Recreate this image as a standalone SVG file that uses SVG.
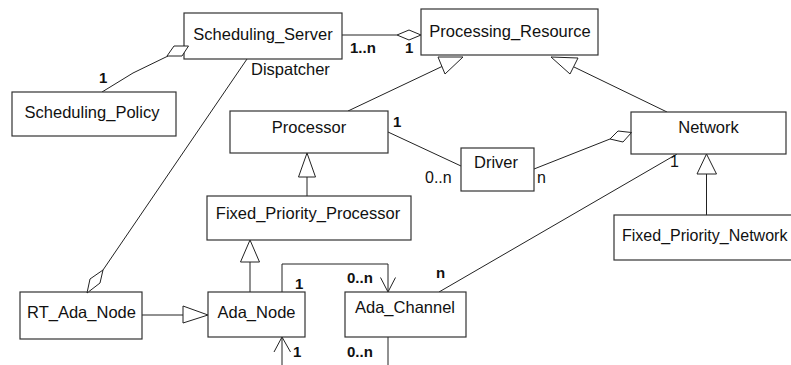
<svg xmlns="http://www.w3.org/2000/svg" width="791" height="365" viewBox="0 0 791 365">
  <style>
    .box { fill: #ffffff; stroke: #333333; stroke-width: 1.2; }
    .name { font-family: "Liberation Sans", Arial, sans-serif; font-size: 16.5px; fill: #111111; text-anchor: middle; }
    .role { font-family: "Liberation Sans", Arial, sans-serif; font-size: 16.5px; fill: #111111; }
    .mult { font-family: "Liberation Sans", Arial, sans-serif; font-size: 16px; fill: #111111; }
    .multb { font-family: "Liberation Sans", Arial, sans-serif; font-size: 15px; font-weight: bold; fill: #111111; }
    .line { fill: none; stroke: #222222; stroke-width: 1; }
    .head { fill: #ffffff; stroke: #222222; stroke-width: 1; }
  </style>
  <rect width="791" height="365" fill="#ffffff"/>

  <!-- associations, aggregations and generalizations -->
  <g id="connectors">
    <!-- Scheduling_Policy to Scheduling_Server -->
    <polyline class="line" points="102,92 133,73 168,56"/>
    <!-- Scheduling_Server to Processing_Resource -->
    <line class="line" x1="342" y1="35" x2="397" y2="35"/>
    <!-- Scheduling_Server to RT_Ada_Node -->
    <line class="line" x1="247" y1="59" x2="103" y2="270"/>
    <!-- Processor / Network to Processing_Resource -->
    <line class="line" x1="348" y1="111" x2="443" y2="66"/>
    <line class="line" x1="667" y1="112" x2="574" y2="67"/>
    <!-- Processor to Driver -->
    <line class="line" x1="388" y1="132" x2="461" y2="166"/>
    <!-- Driver to Network -->
    <line class="line" x1="534" y1="169" x2="610" y2="139"/>
    <!-- Network to Ada_Channel -->
    <line class="line" x1="677" y1="154" x2="439" y2="292"/>
    <!-- Fixed_Priority_Network to Network -->
    <line class="line" x1="706.5" y1="174" x2="706.5" y2="215"/>
    <!-- Fixed_Priority_Processor to Processor -->
    <line class="line" x1="307" y1="177" x2="307" y2="196"/>
    <!-- Ada_Node to Fixed_Priority_Processor -->
    <line class="line" x1="250" y1="262" x2="250" y2="292"/>
    <!-- RT_Ada_Node to Ada_Node -->
    <line class="line" x1="142" y1="315" x2="183" y2="315"/>
    <!-- Ada_Node / Ada_Channel loops -->
    <polyline class="line" points="282,292 282,264 388,264 388,292"/>
    <polyline class="line" points="380.5,277.5 388,292 395.5,277.5"/>
    <polyline class="line" points="282,337 282,372 388,372 388,337"/>
    <polyline class="line" points="274,352 282,337 290.5,352"/>
  </g>

  <!-- nodes -->
  <g id="scheduling_server">
    <rect class="box" x="184" y="13" width="158" height="46"/>
    <text class="name" x="263" y="40">Scheduling_Server</text>
  </g>
  <g id="processing_resource">
    <rect class="box" x="421" y="9" width="177" height="46"/>
    <text class="name" x="510" y="37">Processing_Resource</text>
  </g>
  <g id="scheduling_policy">
    <rect class="box" x="12" y="92" width="164" height="44"/>
    <text class="name" x="92" y="118">Scheduling_Policy</text>
  </g>
  <g id="processor">
    <rect class="box" x="230" y="111" width="158" height="42"/>
    <text class="name" x="309" y="133">Processor</text>
  </g>
  <g id="network">
    <rect class="box" x="631" y="112" width="155" height="42"/>
    <text class="name" x="708.5" y="133">Network</text>
  </g>
  <g id="driver">
    <rect class="box" x="461" y="148" width="73" height="43"/>
    <text class="name" x="496" y="168">Driver</text>
  </g>
  <g id="fixed_priority_processor">
    <rect class="box" x="207" y="196" width="204" height="44"/>
    <text class="name" x="308" y="219">Fixed_Priority_Processor</text>
  </g>
  <g id="fixed_priority_network">
    <rect class="box" x="614" y="215" width="190" height="45"/>
    <text class="role" x="622" y="241" style="font-size:16px">Fixed_Priority_Network</text>
  </g>
  <g id="rt_ada_node">
    <rect class="box" x="20" y="292" width="122" height="47"/>
    <text class="name" x="81.5" y="318">RT_Ada_Node</text>
  </g>
  <g id="ada_node">
    <rect class="box" x="208" y="292" width="97" height="45"/>
    <text class="name" x="256.5" y="318">Ada_Node</text>
  </g>
  <g id="ada_channel">
    <rect class="box" x="345" y="292" width="121" height="45"/>
    <text class="name" x="405" y="313">Ada_Channel</text>
  </g>

  <!-- end markers drawn over the node borders -->
  <g id="markers">
    <polygon class="head" points="167,56 174,46 188.5,46 182,56"/>
    <polygon class="head" points="421,35 409,30 397,35 409,40"/>
    <polygon class="head" points="103,270 90,279 87,293 100,283"/>
    <polygon class="head" points="610,139 618,131 631.5,132.5 623,142"/>
    <polygon class="head" points="438,57 463,57 445,74"/>
    <polygon class="head" points="551,57 578,58 570,74"/>
    <polygon class="head" points="706.5,154 697,174 716.5,174"/>
    <polygon class="head" points="307,153 298.5,177 315.5,177"/>
    <polygon class="head" points="250,240 240.5,262 259.5,262"/>
    <polygon class="head" points="208,315 183,306 183,323"/>
  </g>

  <!-- role names and multiplicities -->
  <g id="labels">
    <text class="multb" x="99" y="83">1</text>
    <text class="multb" x="350" y="53">1..n</text>
    <text class="multb" x="405" y="53">1</text>
    <text class="role" x="251" y="75">Dispatcher</text>
    <text class="multb" x="393" y="127">1</text>
    <text class="mult" x="425" y="183">0..n</text>
    <text class="mult" x="537" y="183">n</text>
    <text class="mult" x="670" y="167">1</text>
    <text class="multb" x="295" y="289">1</text>
    <text class="multb" x="347" y="283">0..n</text>
    <text class="multb" x="436" y="278">n</text>
    <text class="multb" x="293" y="357">1</text>
    <text class="multb" x="347" y="357">0..n</text>
  </g>
</svg>
